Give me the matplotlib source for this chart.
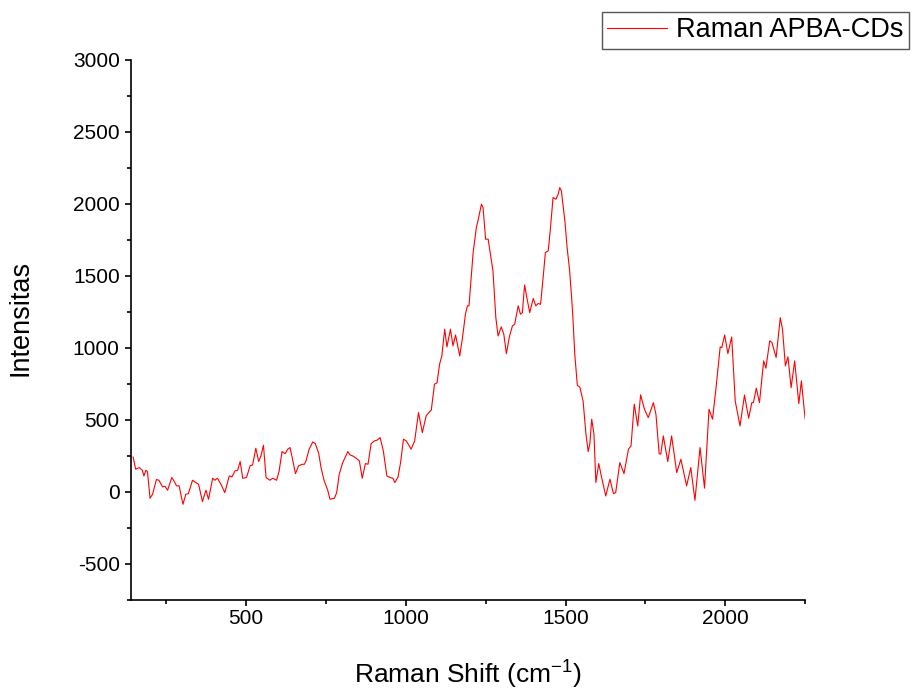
import numpy as np
import matplotlib
matplotlib.use("Agg")
import matplotlib.pyplot as plt
from matplotlib.ticker import MultipleLocator

plt.rcParams['font.family'] = ['Liberation Sans', 'DejaVu Sans']
plt.rcParams['axes.unicode_minus'] = False
plt.rcParams['mathtext.fontset'] = 'custom'
plt.rcParams['mathtext.rm'] = 'Liberation Sans'

# Raman shift (cm-1) and intensity
shift = [147, 155, 166, 176, 181, 187, 192, 200, 208, 220, 228, 239, 247, 255, 268,
         275, 283, 291, 303, 312, 320, 333, 343, 352, 364, 375, 383, 396, 403, 411,
         422, 434, 448, 456, 466, 474, 482, 490, 502, 513, 521, 531, 540, 547, 555,
         563, 575, 584, 596, 604, 613, 623, 631, 638, 646, 655, 665, 676, 683, 688,
         698, 709, 717, 728, 735, 745, 756, 763, 777, 784, 792, 803, 819, 826, 834,
         845, 855, 864, 874, 882, 892, 902, 910, 920, 930, 941, 951, 960, 966, 976,
         984, 993, 1002, 1017, 1028, 1040, 1052, 1064, 1075, 1080, 1090, 1098, 1106,
         1113, 1122, 1129, 1140, 1148, 1156, 1169, 1177, 1187, 1193, 1198, 1211, 1221,
         1226, 1237, 1242, 1250, 1258, 1273, 1282, 1289, 1299, 1307, 1315, 1325, 1334,
         1341, 1352, 1359, 1365, 1372, 1380, 1388, 1399, 1407, 1414, 1422, 1430, 1437,
         1446, 1453, 1461, 1470, 1477, 1482, 1487, 1498, 1505, 1513, 1522, 1529, 1537,
         1545, 1555, 1564, 1571, 1576, 1582, 1589, 1595, 1604, 1613, 1626, 1639, 1650,
         1657, 1670, 1683, 1697, 1705, 1715, 1726, 1735, 1747, 1759, 1775, 1783, 1793,
         1798, 1806, 1820, 1832, 1848, 1861, 1879, 1892, 1905, 1921, 1935, 1949, 1960,
         1971, 1984, 1989, 1998, 2008, 2020, 2031, 2046, 2060, 2073, 2083, 2088, 2097,
         2107, 2120, 2127, 2139, 2146, 2159, 2172, 2179, 2188, 2196, 2206, 2217, 2230,
         2238, 2250]
intensity = [243, 158, 169, 150, 111, 150, 141, -44, -16, 86, 81, 35, 39, 12, 100,
             76, 42, 42, -86, -16, -12, 81, 65, 53, -67, 12, -51, 95, 81, 95,
             53, -5, 111, 104, 146, 150, 211, 95, 100, 181, 188, 303, 211, 250, 324,
             100, 81, 95, 81, 146, 280, 266, 297, 308, 227, 127, 181, 192, 192, 215,
             297, 347, 336, 266, 169, 76, 12, -51, -44, -5, 123, 204, 280, 257, 250,
             234, 215, 95, 197, 192, 336, 354, 359, 377, 285, 111, 100, 95, 65, 104,
             204, 366, 354, 297, 354, 551, 412, 528, 558, 567, 748, 757, 887,
             944, 1130, 1007, 1130, 1014, 1090, 944, 1060, 1234, 1292, 1292, 1662, 1835,
             1882, 1998, 1974, 1755, 1755, 1535, 1210, 1083, 1146, 1095, 960, 1083, 1153,
             1164, 1292, 1234, 1245, 1437, 1338, 1245, 1343, 1292, 1308, 1303, 1488, 1662,
             1674, 1835, 2044, 2032, 2067, 2113, 2090, 1882, 1697, 1535, 1257, 956, 740,
             727, 632, 401, 280, 331, 505, 401, 65, 197, 100, -28, 88, -12,
             -5, 204, 127, 297, 319, 609, 458, 674, 574, 516, 620, 539, 266,
             262, 389, 211, 389, 134, 227, 42, 169, -58, 308, 26, 574, 505,
             724, 1007, 1002, 1090, 960, 1076, 632, 458, 672, 512, 620, 620, 720,
             620, 910, 859, 1049, 1037, 933, 1210, 1130, 875, 938, 724, 910, 613,
             771, 505]

fig = plt.figure(figsize=(9.15, 6.88), dpi=100)
ax = fig.add_axes([0.143, 0.128, 0.737, 0.785])

ax.plot(shift, intensity, color='red', lw=0.8, label='Raman APBA-CDs')

ax.set_xlim(140, 2250)
ax.set_ylim(-750, 3000)
ax.xaxis.set_major_locator(MultipleLocator(500))
ax.xaxis.set_minor_locator(MultipleLocator(250))
ax.yaxis.set_major_locator(MultipleLocator(500))
ax.yaxis.set_minor_locator(MultipleLocator(250))

for s in ['top', 'right']:
    ax.spines[s].set_visible(False)
for s in ['left', 'bottom']:
    ax.spines[s].set_linewidth(1.2)
ax.tick_params(which='major', direction='out', length=4.5, width=1.2, labelsize=15)
ax.tick_params(axis='x', which='major', pad=2)
ax.tick_params(axis='y', which='major', pad=3.5)
ax.tick_params(which='minor', direction='out', length=2.8, width=1.2)

ax.set_xlabel('Raman Shift (cm$^{-1}$)', fontsize=19)
ax.set_ylabel('Intensitas', fontsize=19.5)
ax.xaxis.set_label_coords(0.5, -0.105)
ax.yaxis.set_label_coords(-0.145, 0.522)

fig.legend(loc='upper left', bbox_to_anchor=(602 / 915, 1 - 12 / 688),
           fontsize=19.5, fancybox=False, edgecolor='#555555', framealpha=1,
           handlelength=2.2, handletextpad=0.35, borderpad=0.2, borderaxespad=0)

fig.savefig('out.png', dpi=100)
